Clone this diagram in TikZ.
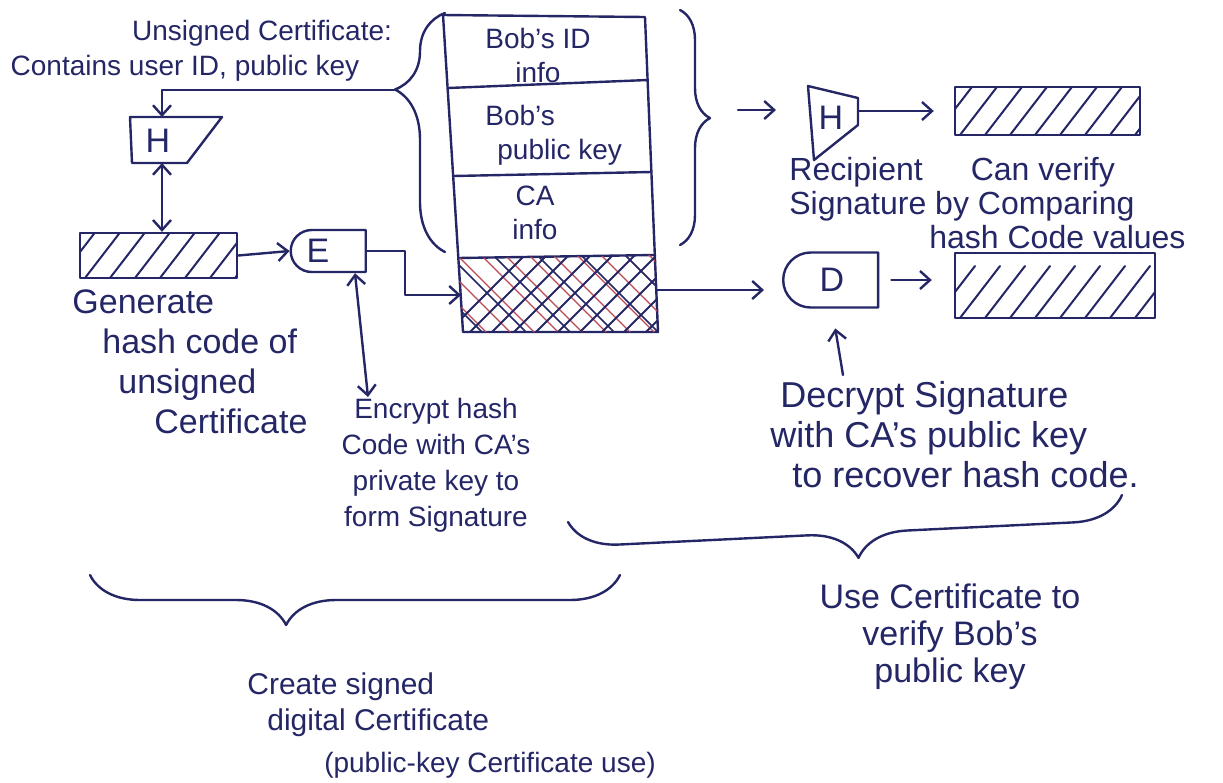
\documentclass[tikz,border=0pt]{standalone}
\usepackage{fontspec}
\setmainfont{Liberation Sans}
\usetikzlibrary{arrows.meta,calc,positioning,shapes.misc,decorations.pathreplacing}
\definecolor{ink}{RGB}{36,38,102}
\definecolor{redink}{RGB}{186,72,84}
\tikzset{pen/.style={draw=ink,line width=1.2pt},
 flow/.style={pen,-{Straight Barb[length=5pt,width=9pt]}},
 flowboth/.style={pen,{Straight Barb[length=5pt,width=9pt]}-{Straight Barb[length=5pt,width=9pt]}},
 scrawl/.style={text=ink,inner sep=1pt,align=center,font=\fontsize{15}{18}\selectfont},
 hashbox/.style={pen,rectangle,inner sep=0pt,path picture={
   \foreach \k in {0,...,9}
     \draw[ink,line width=1pt] ($(path picture bounding box.south west)+(\k*25-20,0)$) -- ++(40,-52);}},
 cryptbox/.style={pen,rounded rectangle,rounded rectangle right arc=none,inner sep=0pt,
   text=ink,font=\fontsize{17}{18}\selectfont},
 every picture/.style={line join=round,line cap=round}}

\begin{document}
\begin{tikzpicture}[x=0.5pt,y=-0.5pt]
\useasboundingbox (0,0) rectangle (1223,783);
\node[scrawl,font=\fontsize{14}{17}\selectfont] (unsig) at (262,33) {Unsigned Certificate:};
\node[scrawl,font=\fontsize{14}{17}\selectfont] (contains) at (185,68) {Contains user ID, public key};
\draw[pen] (130,117) -- (222,117) -- (187,163) -- (132,163) -- cycle;
\node[text=ink,font=\fontsize{17}{18}\selectfont] (hone) at (158,141) {H};
\coordinate (honetop) at (162,117);
\coordinate (honebot) at (162,163);
\node[hashbox,minimum width=78.5pt,minimum height=22.5pt] (gen) at (158.5,255.5) {};
\node[cryptbox,minimum width=37.5pt,minimum height=21pt] (enc) at (330,251) {\hspace*{-12pt}E};
\node[scrawl,align=left,anchor=west,font=\fontsize{17}{20}\selectfont] (gennote) at (70,362)
  {Generate\\\hspace*{15pt}hash code of\\\hspace*{23pt}unsigned\\\hspace*{41pt}Certificate};
\node[scrawl,font=\fontsize{14}{18}\selectfont] (encnote) at (436,465) {Encrypt hash\\Code with CA's\\private key to\\form Signature};
\coordinate (efoot) at (368,397);

\draw[pen] (443,15) -- (645,17) -- (658,332) -- (463,332) -- cycle;
\draw[pen] (448,88) -- (648,80);
\draw[pen] (453,176) -- (651,172);
\draw[pen] (458,258) -- (655,255);
\begin{scope}
\clip (458,258) -- (655,255) -- (658,332) -- (463,332) -- cycle;
\foreach \k in {0,...,12}
  \draw[redink,line width=.7pt] (380+\k*24,250) -- ++(90,90);
\foreach \k in {0,...,5}
  \draw[ink,line width=.8pt] (400+\k*44,250) -- ++(90,90);
\foreach \k in {0,...,12}
  \draw[ink,line width=.9pt] (440+\k*22,340) -- ++(90,-90);
\end{scope}
\node[scrawl,font=\fontsize{14}{17}\selectfont] (bobid) at (538,55) {Bob's ID\\info};
\node[scrawl,font=\fontsize{14}{17}\selectfont,align=left,anchor=west] (bobkey) at (483,135) {Bob's\\\hspace*{6pt}public key};
\node[scrawl,font=\fontsize{14}{17}\selectfont] (cainfo) at (535,213) {CA\\info};
\coordinate (sigin) at (461,295);
\coordinate (sigout) at (657,290);

\draw[pen,decorate,decoration={brace,amplitude=25pt,aspect=0.68}] (445,252) -- (445,13);
\coordinate (ltip) at (395,90);
\draw[pen,decorate,decoration={brace,amplitude=15pt,aspect=0.46}] (680,10) -- (680,245);
\coordinate (rtip) at (712,110);

\draw[pen] (808,86) -- (858,98) -- (858,125) -- (814,160) -- cycle;
\node[text=ink,font=\fontsize{17}{18}\selectfont] (htwo) at (831,118) {H};
\coordinate (htwoin) at (808,110);
\coordinate (htwoout) at (858,111);
\node[hashbox,minimum width=92.5pt,minimum height=24pt] (cmp) at (1047.5,111) {};
\node[scrawl,align=left,anchor=west,font=\fontsize{16}{17}\selectfont] (recnote) at (787,203)
  {Recipient\hspace{24pt}Can verify\\Signature by Comparing\\\hspace*{70pt}hash Code values};

\node[cryptbox,minimum width=47.5pt,minimum height=27.5pt] (dec) at (832,280) {D};
\node[hashbox,minimum width=100pt,minimum height=32.5pt] (rec) at (1055,285.5) {};
\node[scrawl,align=left,anchor=west,font=\fontsize{18}{20}\selectfont] (decnote) at (768,435)
  {\hspace*{5pt}Decrypt Signature\\with CA's public key\\\hspace*{11pt}to recover hash code.};
\coordinate (dfoot) at (843,375);

\draw[pen,decorate,decoration={brace,amplitude=25pt,aspect=0.63}] (620,575) -- (90,575);
\draw[pen,decorate,decoration={brace,amplitude=25pt,aspect=0.48}] (1122,495) -- (568,522);
\node[scrawl,align=left,anchor=west] (createnote) at (245,705) {Create signed\\\hspace*{10pt}digital Certificate};
\node[scrawl,font=\fontsize{17}{18.5}\selectfont] (usenote) at (950,637) {Use Certificate to\\verify Bob's\\public key};
\node[scrawl,font=\fontsize{14}{18}\selectfont] (caption) at (490,765) {(public-key Certificate use)};

\draw[flow] (ltip) -| (honetop);
\draw[flowboth] (honebot) -- (honebot |- gen.north);
\draw[flow] (gen.east) -- (enc.west);
\draw[flow] (enc.east) -- ++(38,0) |- (sigin);
\draw[flowboth] ($(enc.south)+(25,0)$) -- (efoot);
\draw[flow,shorten <=13pt,shorten >=16pt] (rtip) -- (htwoin);
\draw[flow,shorten >=10pt] (htwoout) -- (cmp.west);
\draw[flow,shorten >=9pt] (sigout) -- (sigout -| dec.west);
\draw[flow,shorten <=6pt,shorten >=11pt] (dec.east) -- (dec.east -| rec.west);
\draw[flow,shorten >=10pt] (dfoot) -- (dec.south);
\end{tikzpicture}
\end{document}
